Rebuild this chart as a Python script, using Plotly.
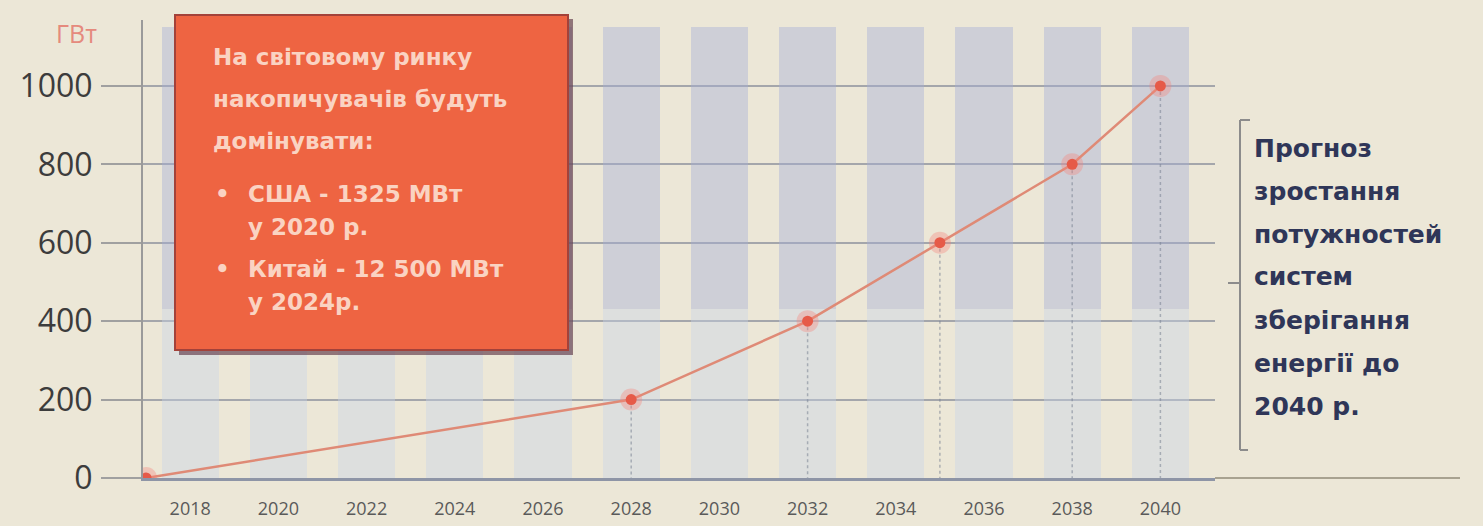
import plotly.graph_objects as go

# ---------------- data ----------------
years = [2017, 2028, 2032, 2035, 2038, 2040]
capacity_gw = [0, 200, 400, 600, 800, 1000]

x_ticks = [2018, 2020, 2022, 2024, 2026, 2028, 2030, 2032, 2034, 2036, 2038, 2040]
y_ticks = [0, 200, 400, 600, 800, 1000]
y_tick_labels = ["0", "200", "400", "600", "800", "1000"]

band_years = x_ticks
band_split = [430] * len(band_years)
band_top = [1150] * len(band_years)

unit_label = "ГВт"
box_lines = [
    "На світовому ринку",
    "накопичувачів будуть",
    "домінувати:",
]
bullet_lines = [
    ("США - 1325 МВт", "у 2020 р."),
    ("Китай - 12 500 МВт", "у 2024р."),
]
side_lines = ["Прогноз", "зростання", "потужностей", "систем", "зберігання", "енергії до", "2040 р."]

# ---------------- layout geometry ----------------
W, H = 1483, 526
ML, MR, MT, MB = 143, 268, 20, 48
PW = W - ML - MR
PH = H - MT - MB


def px(xp):
    return (xp - ML) / PW


def py(yp):
    return (H - MB - yp) / PH


fig = go.Figure()

# background columns
fig.add_trace(go.Bar(
    x=band_years, y=band_split, width=1.3,
    marker=dict(color="rgba(200,212,232,0.40)", line=dict(width=0)),
    hoverinfo="skip", showlegend=False,
))
fig.add_trace(go.Bar(
    x=band_years, y=[t - s for t, s in zip(band_top, band_split)], base=band_split, width=1.3,
    marker=dict(color="rgba(165,175,215,0.42)", line=dict(width=0)),
    hoverinfo="skip", showlegend=False,
))

# drop lines
dx, dy = [], []
for xv, yv in zip(years[1:], capacity_gw[1:]):
    dx += [xv, xv, None]
    dy += [yv, 0, None]
fig.add_trace(go.Scatter(
    x=dx, y=dy, mode="lines",
    line=dict(color="rgba(120,130,145,0.55)", width=1.5, dash="dot"),
    hoverinfo="skip", showlegend=False,
))

# main line
fig.add_trace(go.Scatter(
    x=years, y=capacity_gw, mode="lines",
    line=dict(color="#df8a76", width=2.5),
    showlegend=False,
))
fig.add_trace(go.Scatter(
    x=years, y=capacity_gw, mode="markers",
    marker=dict(size=22, color="rgba(245,130,120,0.35)", line=dict(width=0)),
    hoverinfo="skip", showlegend=False,
))
fig.add_trace(go.Scatter(
    x=years, y=capacity_gw, mode="markers",
    marker=dict(size=11, color="#e65a48", line=dict(width=0)),
    showlegend=False,
))

shapes = []
# extended bottom axis
shapes.append(dict(type="line", xref="paper", yref="paper", x0=1, x1=px(1460), y0=0, y1=0,
                   line=dict(color="#a8a290", width=2)))
# orange box shadow and box
bx0, bx1, by0, by1 = 175, 568, 15, 350
shapes.append(dict(type="rect", xref="paper", yref="paper",
                   x0=px(bx0 + 4), x1=px(bx1 + 5), y0=py(by1 + 5), y1=py(by0 + 4),
                   fillcolor="rgba(95,55,70,0.65)", line=dict(width=0), layer="above"))
shapes.append(dict(type="rect", xref="paper", yref="paper",
                   x0=px(bx0), x1=px(bx1), y0=py(by1), y1=py(by0),
                   fillcolor="#ee6442", line=dict(color="#a3423a", width=2), layer="above"))
# bracket
bxr = 1240
shapes.append(dict(type="line", xref="paper", yref="paper", x0=px(bxr), x1=px(bxr), y0=py(450), y1=py(120),
                   line=dict(color="#8c8c8c", width=2)))
shapes.append(dict(type="line", xref="paper", yref="paper", x0=px(bxr), x1=px(bxr + 10), y0=py(120), y1=py(120),
                   line=dict(color="#8c8c8c", width=2)))
shapes.append(dict(type="line", xref="paper", yref="paper", x0=px(bxr), x1=px(bxr + 8), y0=py(450), y1=py(450),
                   line=dict(color="#8c8c8c", width=2)))
shapes.append(dict(type="line", xref="paper", yref="paper", x0=px(bxr - 12), x1=px(bxr), y0=py(283), y1=py(283),
                   line=dict(color="#8c8c8c", width=2)))

annotations = []
box_font = dict(family="DejaVu Sans", size=23, color="#fad3c2")
for txt, yc in zip(box_lines, [57, 99, 141]):
    annotations.append(dict(text="<b>%s</b>" % txt, xref="paper", yref="paper", x=px(211), y=py(yc),
                            xanchor="left", yanchor="middle", showarrow=False, font=box_font))
for (l1, l2), (y1, y2) in zip(bullet_lines, [(194, 227), (269, 302)]):
    annotations.append(dict(text="<b>•</b>", xref="paper", yref="paper", x=px(222), y=py(y1),
                            xanchor="center", yanchor="middle", showarrow=False, font=box_font))
    annotations.append(dict(text="<b>%s</b>" % l1, xref="paper", yref="paper", x=px(246), y=py(y1),
                            xanchor="left", yanchor="middle", showarrow=False, font=box_font))
    annotations.append(dict(text="<b>%s</b>" % l2, xref="paper", yref="paper", x=px(246), y=py(y2),
                            xanchor="left", yanchor="middle", showarrow=False, font=box_font))

side_font = dict(family="DejaVu Sans", size=25, color="#2f3658")
for i, txt in enumerate(side_lines):
    annotations.append(dict(text="<b>%s</b>" % txt, xref="paper", yref="paper", x=px(1252), y=py(148 + i * 43),
                            xanchor="left", yanchor="middle", showarrow=False, font=side_font))

annotations.append(dict(text=unit_label, xref="paper", yref="paper", x=px(76), y=py(33),
                        xanchor="center", yanchor="middle", showarrow=False,
                        font=dict(family="Open Sans", size=25, color="#e58a7d")))

fig.update_layout(
    width=W, height=H,
    margin=dict(l=ML, r=MR, t=MT, b=MB, autoexpand=False),
    paper_bgcolor="#ece7d7",
    plot_bgcolor="#ece7d7",
    barmode="overlay",
    bargap=0,
    shapes=shapes,
    annotations=annotations,
    xaxis=dict(
        range=[2016.93, 2016.93 + PW / 44.1],
        tickvals=x_ticks,
        ticktext=[str(v) for v in x_ticks],
        tickfont=dict(family="Open Sans", size=18, color="#5a5a5a"),
        showgrid=False, zeroline=False,
        showline=True, linecolor="#8e95a6", linewidth=3,
        ticks="", ticklabelstandoff=12,
        automargin=False,
    ),
    yaxis=dict(
        range=[0, 1168],
        tickvals=y_ticks,
        ticktext=y_tick_labels,
        tickfont=dict(family="Open Sans", size=32, color="#3c3c3c"),
        showgrid=True, gridcolor="#a4a6ab", gridwidth=2,
        zeroline=False,
        showline=True, linecolor="#9a9a9a", linewidth=2,
        ticks="outside", ticklen=40, tickcolor="#a0a0a0", tickwidth=2,
        ticklabelstandoff=2,
        automargin=False,
    ),
)

fig.write_html("out.html")
